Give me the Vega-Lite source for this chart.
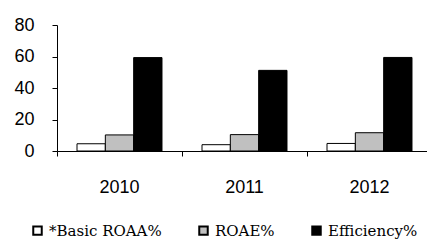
{
  "$schema": "https://vega.github.io/schema/vega-lite/v6.json",
  "autosize": "none",
  "width": 375,
  "height": 126,
  "padding": {"left": 57, "top": 25, "right": 0, "bottom": 90},
  "background": "white",
  "config": {
    "view": {"stroke": null},
    "axis": {"domain": true, "ticks": true, "domainWidth": 1, "tickWidth": 1, "domainColor": "#000000", "tickColor": "#000000", "domainOpacity": 1, "tickOpacity": 1}
  },
  "data": {
    "values": [
      {"year": "2010", "metric": "*Basic ROAA%", "value": 4.6},
      {"year": "2010", "metric": "ROAE%", "value": 10.2},
      {"year": "2010", "metric": "Efficiency%", "value": 59.3},
      {"year": "2011", "metric": "*Basic ROAA%", "value": 4.0},
      {"year": "2011", "metric": "ROAE%", "value": 10.4},
      {"year": "2011", "metric": "Efficiency%", "value": 51.2},
      {"year": "2012", "metric": "*Basic ROAA%", "value": 4.8},
      {"year": "2012", "metric": "ROAE%", "value": 11.6},
      {"year": "2012", "metric": "Efficiency%", "value": 59.4}
    ]
  },
  "mark": {"type": "bar", "stroke": "black", "strokeWidth": 1},
  "encoding": {
    "x": {
      "field": "year", "type": "nominal",
      "scale": {"paddingInner": 0, "paddingOuter": 0},
      "axis": {
        "title": null, "labelAngle": 0, "bandPosition": 0,
        "tickSize": 5,
        "labelFont": "Liberation Sans", "labelFontSize": 18, "labelColor": "black",
        "labelPadding": 22, "labelBaseline": "top", "grid": false
      }
    },
    "xOffset": {
      "field": "metric", "type": "nominal",
      "sort": ["*Basic ROAA%", "ROAE%", "Efficiency%"],
      "scale": {"paddingInner": 0, "paddingOuter": 0.706}
    },
    "y": {
      "field": "value", "type": "quantitative",
      "scale": {"domain": [0, 80], "nice": false},
      "axis": {
        "title": null, "values": [0, 20, 40, 60, 80], "grid": false,
        "tickSize": 5,
        "labelFont": "Liberation Sans", "labelFontSize": 18, "labelColor": "black",
        "labelPadding": 18
      }
    },
    "fill": {
      "field": "metric", "type": "nominal",
      "sort": ["*Basic ROAA%", "ROAE%", "Efficiency%"],
      "scale": {"domain": ["*Basic ROAA%", "ROAE%", "Efficiency%"], "range": ["white", "#c0c0c0", "black"]},
      "legend": {
        "title": null, "orient": "none", "direction": "horizontal",
        "legendX": -27, "legendY": 198, "padding": 0,
        "symbolType": "square", "symbolSize": 72, "symbolStrokeColor": "black", "symbolStrokeWidth": 2,
        "symbolOpacity": 1,
        "labelFont": "DejaVu Serif", "labelFontSize": 15, "labelColor": "black",
        "labelOffset": 4, "columnPadding": 33
      }
    }
  }
}
